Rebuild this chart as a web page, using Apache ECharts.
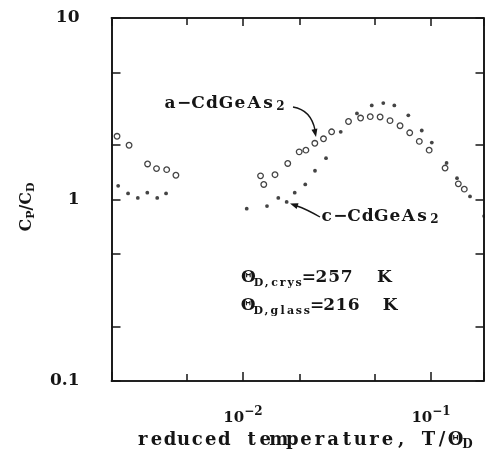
<!DOCTYPE html>
<html><head><meta charset="utf-8">
<script src="https://cdn.jsdelivr.net/npm/echarts@6/dist/echarts.min.js"></script>
<style>html,body{margin:0;padding:0;background:#fff}#c{width:485px;height:460px}</style>
</head><body><div id="c"></div>
<script>
// a-CdGeAs2 (open circles)
const aX = [0.00214, 0.00248, 0.00311, 0.00347, 0.00393, 0.00440, 0.0124, 0.0129, 0.0148, 0.0173, 0.0199, 0.0216, 0.0241, 0.0268, 0.0296, 0.0364, 0.0422, 0.0475, 0.0536, 0.0605, 0.0684, 0.0770, 0.0866, 0.0977, 0.1187, 0.1396, 0.1502];
const aY = [2.23, 1.99, 1.57, 1.48, 1.46, 1.36, 1.35, 1.21, 1.37, 1.58, 1.83, 1.87, 2.04, 2.16, 2.36, 2.69, 2.81, 2.86, 2.85, 2.72, 2.55, 2.33, 2.09, 1.87, 1.49, 1.22, 1.14];
// c-CdGeAs2 (filled dots)
const cX = [0.00217, 0.00245, 0.00276, 0.00310, 0.00350, 0.00390, 0.01047, 0.01342, 0.01541, 0.01707, 0.01884, 0.02144, 0.02415, 0.02764, 0.03309, 0.04036, 0.04837, 0.05572, 0.06377, 0.07568, 0.08924, 0.1009, 0.1209, 0.1374, 0.1611, 0.1914];
const cY = [1.19, 1.08, 1.02, 1.09, 1.02, 1.08, 0.89, 0.92, 1.02, 0.97, 1.09, 1.21, 1.44, 1.69, 2.36, 2.98, 3.30, 3.40, 3.30, 2.91, 2.40, 2.06, 1.59, 1.31, 1.04, 0.81];

const xRange = [0.002, 0.19];
const yRange = [0.1, 10];
const xTickValues = [0.01, 0.1];
const xTickBase = ['10', '10'];
const xTickExp = ['\u22122', '\u22121'];
const xMinorTicks = [0.005, 0.02, 0.05];
const yTickValues = [0.1, 1, 10];
const yTickLabels = ['0.1', '1', '10'];
const yMinorTicks = [0.2, 0.5, 2, 5];

const FONT = 'DejaVu Serif';
const INK = '#151515';

function findIdx(arr, v) {
  for (let i = 0; i < arr.length; i++) if (Math.abs(Math.log10(arr[i]) - Math.log10(v)) < 1e-6) return i;
  return -1;
}
function cells(str, st) {
  return Array.from(str).map(ch => '{' + st + '|' + ch + '}').join('');
}

const chart = echarts.init(document.getElementById('c'), null, {renderer: 'canvas'});
const L10 = Math.log10;
const tickStyle = {color: INK, width: 1.5};
const lineOn = {show: true, onZero: false, lineStyle: {color: INK, width: 1.6}};

const option = {
  animation: false,
  backgroundColor: '#fff',
  grid: {left: 111.5, top: 18, width: 372, height: 363, show: false, containLabel: false, outerBoundsMode: 'none'},
  xAxis: [
    {type: 'log', min: xRange[0], max: xRange[1], position: 'bottom',
     axisLine: lineOn, splitLine: {show: false}, minorTick: {show: false},
     axisTick: {show: true, inside: true, length: 9, lineStyle: tickStyle},
     axisLabel: {show: true, margin: 25, color: INK,
       formatter: v => { const i = findIdx(xTickValues, v); return i < 0 ? '' : '{b|' + xTickBase[i] + '}{s|' + xTickExp[i] + '}'; },
       rich: {
         b: {fontFamily: FONT, fontWeight: 'bold', fontSize: 15, lineHeight: 24, verticalAlign: 'middle', color: INK},
         s: {fontFamily: FONT, fontWeight: 'bold', fontSize: 12, lineHeight: 10, verticalAlign: 'top', color: INK}
       }}},
    {type: 'value', min: L10(xRange[0]), max: L10(xRange[1]), position: 'bottom',
     axisLine: lineOn, splitLine: {show: false}, axisLabel: {show: false},
     axisTick: {show: true, inside: true, length: 7, lineStyle: tickStyle, customValues: xMinorTicks.map(L10)}},
    {type: 'log', min: xRange[0], max: xRange[1], position: 'top',
     axisLine: lineOn, splitLine: {show: false}, axisLabel: {show: false}, minorTick: {show: false},
     axisTick: {show: true, inside: true, length: 8, lineStyle: tickStyle}},
    {type: 'value', min: L10(xRange[0]), max: L10(xRange[1]), position: 'top',
     axisLine: lineOn, splitLine: {show: false}, axisLabel: {show: false},
     axisTick: {show: true, inside: true, length: 7, lineStyle: tickStyle, customValues: xMinorTicks.map(L10)}}
  ],
  yAxis: [
    {type: 'log', min: yRange[0], max: yRange[1], position: 'left',
     axisLine: lineOn, splitLine: {show: false}, minorTick: {show: false},
     axisTick: {show: true, inside: true, length: 9, lineStyle: tickStyle},
     axisLabel: {show: true, margin: 32, color: INK, fontFamily: FONT, fontWeight: 'bold', fontSize: 17,
       formatter: v => { const i = findIdx(yTickValues, v); return i < 0 ? '' : yTickLabels[i]; }}},
    {type: 'value', min: L10(yRange[0]), max: L10(yRange[1]), position: 'left',
     axisLine: lineOn, splitLine: {show: false}, axisLabel: {show: false},
     axisTick: {show: true, inside: true, length: 9, lineStyle: tickStyle, customValues: yMinorTicks.map(L10)}},
    {type: 'log', min: yRange[0], max: yRange[1], position: 'right',
     axisLine: lineOn, splitLine: {show: false}, axisLabel: {show: false}, minorTick: {show: false},
     axisTick: {show: true, inside: true, length: 8, lineStyle: tickStyle}},
    {type: 'value', min: L10(yRange[0]), max: L10(yRange[1]), position: 'right',
     axisLine: lineOn, splitLine: {show: false}, axisLabel: {show: false},
     axisTick: {show: true, inside: true, length: 8, lineStyle: tickStyle, customValues: yMinorTicks.map(L10)}}
  ],
  series: [
    {name: 'a-CdGeAs2', type: 'scatter', xAxisIndex: 0, yAxisIndex: 0, clip: false,
     symbol: 'circle', symbolSize: 5.6,
     itemStyle: {color: '#fff', borderColor: INK, borderWidth: 1.3},
     data: aX.map((x, i) => [x, aY[i]])},
    {name: 'c-CdGeAs2', type: 'scatter', xAxisIndex: 0, yAxisIndex: 0, clip: false,
     symbol: 'circle', symbolSize: 3.8,
     itemStyle: {color: INK},
     data: cX.map((x, i) => [x, cY[i]])}
  ]
};
chart.setOption(option);

function arrowHead(tx, ty, fx, fy, len, hw) {
  const dx = tx - fx, dy = ty - fy, d = Math.hypot(dx, dy), ux = dx / d, uy = dy / d;
  const bx = tx - ux * len, by = ty - uy * len;
  return {type: 'polygon', shape: {points: [[tx, ty], [bx - uy * hw, by + ux * hw], [bx + uy * hw, by - ux * hw]]}, style: {fill: INK}};
}

const mainSt = (fs, lh, w) => ({fontFamily: FONT, fontWeight: 'bold', fontSize: fs, lineHeight: lh, width: w, align: 'center', verticalAlign: 'middle', fill: INK, color: INK});
const subSt = (fs, lh, w) => ({fontFamily: FONT, fontWeight: 'bold', fontSize: fs, lineHeight: lh, width: w, align: 'center', verticalAlign: 'bottom', fill: INK, color: INK});

chart.setOption({
  graphic: [
    // y-axis name
    {type: 'text', x: 27, y: 207, rotation: Math.PI / 2,
     style: {text: '{m|C}{s|P}{m|/}{m|C}{s|D}', align: 'center', verticalAlign: 'middle', fill: INK,
       rich: {m: {fontFamily: FONT, fontWeight: 'bold', fontSize: 16, lineHeight: 20, verticalAlign: 'middle', fill: INK},
              s: {fontFamily: FONT, fontWeight: 'bold', fontSize: 11, lineHeight: 11, verticalAlign: 'bottom', fill: INK}}}},
    // x-axis name
    {type: 'text', x: 136, y: 440,
     style: {text: cells('reduced temperature, T/\u0398', 'm') + '{s|D}', align: 'left', verticalAlign: 'middle', fill: INK,
       rich: {m: mainSt(18, 22, 13.6), s: subSt(12, 12, 10)}}},
    // series labels
    {type: 'text', x: 163, y: 104,
     style: {text: cells('a\u2212CdGeAs', 'm') + '{s|2}', align: 'left', verticalAlign: 'middle', fill: INK,
       rich: {m: mainSt(17, 18, 14), s: subSt(12, 12, 11)}}},
    {type: 'text', x: 320, y: 217,
     style: {text: cells('c\u2212CdGeAs', 'm') + '{s|2}', align: 'left', verticalAlign: 'middle', fill: INK,
       rich: {m: mainSt(17, 18, 13.6), s: subSt(12, 12, 11)}}},
    // Debye temperatures
    {type: 'text', x: 242, y: 278,
     style: {text: cells('\u0398', 'm') + cells('D,crys', 's') + cells('=257  K', 'm'), align: 'left', verticalAlign: 'middle', fill: INK,
       rich: {m: mainSt(17, 22, 12.6), s: subSt(11, 12, 8)}}},
    {type: 'text', x: 242, y: 306,
     style: {text: cells('\u0398', 'm') + cells('D,glass', 's') + cells('=216  K', 'm'), align: 'left', verticalAlign: 'middle', fill: INK,
       rich: {m: mainSt(17, 22, 12.2), s: subSt(11, 12, 8.1)}}},
    // arrows
    {type: 'bezierCurve', shape: {x1: 293, y1: 107, cpx1: 311, cpy1: 110, x2: 315, y2: 130}, style: {stroke: INK, lineWidth: 1.4, fill: null}},
    arrowHead(316, 137, 311, 112, 8, 3),
    {type: 'bezierCurve', shape: {x1: 320, y1: 217, cpx1: 306, cpy1: 209, x2: 297, y2: 206}, style: {stroke: INK, lineWidth: 1.4, fill: null}},
    arrowHead(290, 203.5, 305, 208.5, 8, 3)
  ]
});
</script></body></html>
